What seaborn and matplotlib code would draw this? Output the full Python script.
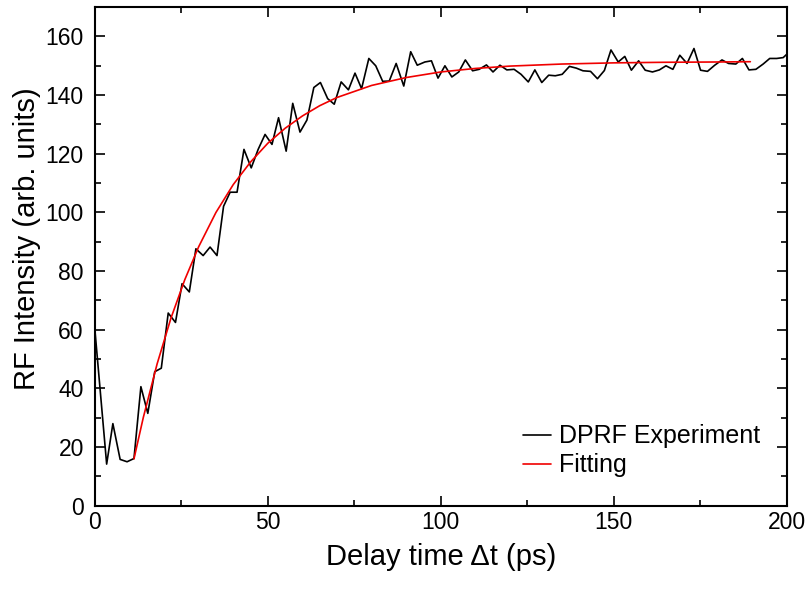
import matplotlib
matplotlib.use("Agg")
import matplotlib.pyplot as plt
from matplotlib.ticker import MultipleLocator
import seaborn as sns
import pandas as pd

# Experimental data (delay time in ps, RF intensity in arb. units)
x_exp = [0, 3.4, 5.2, 7.3, 9.3, 11.3, 13.3, 15.3, 17.3, 19.2, 21.2, 23.3, 25.2, 27.3,
         29.2, 31.3, 33.3, 35.3, 37.2, 39.1, 41.1, 43.1, 45.2, 47.2, 49.2, 51.2, 53.1,
         55.3, 57.2, 59.3, 61.3, 63.3, 65.2, 67.3, 69.2, 71.2, 73.3, 75.2, 77.1, 79.2,
         81.2, 83.2, 85.1, 87.1, 89.3, 91.3, 93.2, 95.4, 97.3, 99.2, 101.2, 103.2, 105.2,
         107.1, 109.2, 111.1, 113.2, 115.1, 117.1, 119.1, 121.2, 123.2, 125.3, 127.2,
         129.2, 131.2, 133.1, 135.1, 137.2, 139.2, 141.1, 143.3, 145.3, 147.3, 149.2,
         151.3, 153.2, 155.1, 157.2, 159.1, 161.2, 163.2, 165.1, 167.1, 169.1, 171.2,
         173.2, 175.1, 177.1, 179.2, 181.3, 183.2, 185.3, 187.2, 189.1, 191.1, 193.2,
         195.1, 197.1, 199.0, 201.0]
y_exp = [60, 14.2, 28, 15.8, 15, 16.1, 40.6, 31.5, 45.7, 46.9, 65.7, 62.5, 75.7, 72.9,
         87.6, 85.3, 88.2, 85.3, 102.1, 106.9, 106.9, 121.5, 115.2, 121.5, 126.6, 123.2, 132.3,
         120.9, 137.2, 127.4, 131.5, 142.6, 144.3, 138.8, 136.9, 144.5, 141.8, 147.5, 142.2, 152.5,
         150.0, 144.7, 144.8, 150.8, 143.1, 154.8, 150.2, 151.3, 151.7, 145.8, 150.0, 146.2, 147.9,
         152.0, 148.3, 148.8, 150.3, 147.9, 150.2, 148.6, 148.8, 147.1, 144.5, 148.6,
         144.3, 146.8, 146.6, 147.1, 149.8, 149.2, 148.3, 148.1, 145.6, 148.4, 155.4,
         151.3, 153.2, 148.5, 151.7, 148.5, 147.9, 148.6, 150.0, 148.8, 153.6, 150.8,
         155.9, 148.5, 148.1, 150.2, 152.0, 150.8, 150.6, 152.5, 148.6, 148.8, 150.6,
         152.5, 152.5, 152.8, 155.0]

# Fitting curve values
x_fit = [11.3, 14, 18, 22, 26, 30, 35, 40, 45, 50, 55, 60, 65, 70, 80, 90, 100,
         110, 120, 135, 150, 165, 180, 189.5]
y_fit = [16.0, 30.1, 48.4, 64.0, 77.1, 88.3, 100.0, 109.5, 117.2, 123.6, 128.7, 132.9,
         136.4, 139.2, 143.3, 146.0, 147.9, 149.1, 149.9, 150.6, 151.0, 151.2, 151.3, 151.4]

labels = ["DPRF Experiment", "Fitting"]
xlabel = "Delay time \u0394t (ps)"
ylabel = "RF Intensity (arb. units)"

sns.set_theme(style="ticks")
plt.rcParams["font.family"] = ["Liberation Sans", "DejaVu Sans"]
plt.rcParams["text.color"] = "black"
plt.rcParams["axes.labelcolor"] = "black"

fig = plt.figure(figsize=(8.11, 5.95), dpi=100)
ax = fig.add_axes([0.117, 0.150, 0.853, 0.838])

df_exp = pd.DataFrame({"x": x_exp, "y": y_exp})
df_fit = pd.DataFrame({"x": x_fit, "y": y_fit})
sns.lineplot(data=df_exp, x="x", y="y", ax=ax, color="black", lw=1.2,
             sort=False, estimator=None, label=labels[0])
sns.lineplot(data=df_fit, x="x", y="y", ax=ax, color="#f00000", lw=1.2,
             sort=False, estimator=None, label=labels[1])

ax.set_xlim(0, 200)
ax.set_ylim(0, 170)
ax.xaxis.set_major_locator(MultipleLocator(50))
ax.xaxis.set_minor_locator(MultipleLocator(25))
ax.yaxis.set_major_locator(MultipleLocator(20))
ax.yaxis.set_minor_locator(MultipleLocator(10))
ax.set_yticks(range(0, 161, 20))
ax.tick_params(which="both", direction="in", top=True, right=True, width=1.2,
               colors="black", labelsize=16.5)
ax.tick_params(which="major", length=7)
ax.tick_params(which="minor", length=4)
ax.tick_params(axis="x", which="major", pad=4)
ax.tick_params(axis="y", which="major", pad=8)
for s in ax.spines.values():
    s.set_linewidth(1.5)
    s.set_color("black")

ax.set_xlabel(xlabel, fontsize=21, labelpad=6)
ax.set_ylabel(ylabel, fontsize=21)
ax.yaxis.set_label_coords(-0.078, 0.535)

leg = ax.legend(loc="upper left", bbox_to_anchor=(0.619, 0.163), frameon=False,
                fontsize=18, handlelength=1.1, handletextpad=0.35, labelspacing=0.2,
                borderpad=0, borderaxespad=0)

fig.savefig("out.png", dpi=100)
